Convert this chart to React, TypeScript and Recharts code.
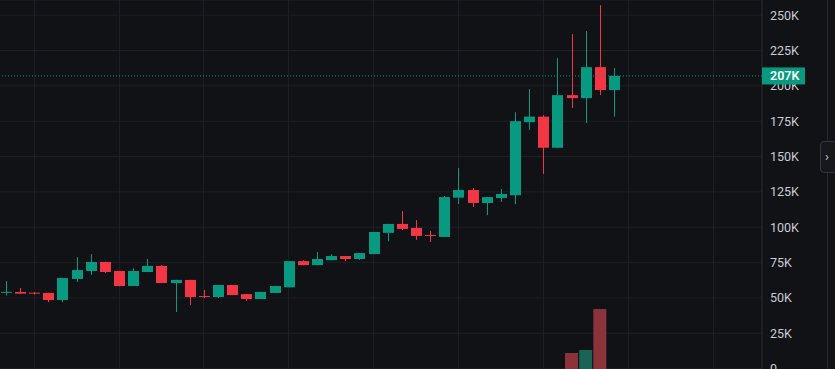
import React from "react";
import {
  Bar, ComposedChart, CartesianGrid, ReferenceLine, XAxis, YAxis,
} from "recharts";

// monthly candles, values in dollars (in K)
const opens  = [53.7, 54.2, 53.7, 53.5, 48.5, 63.4, 69.0, 75.4, 69.0, 58.4, 68.3, 72.6, 60.5, 62.7, 51.3, 50.6, 59.1, 52.7, 49.2, 53.5, 57.5, 76.0, 73.2, 76.7, 79.6, 77.5, 81.0, 96.0, 102.3, 99.5, 94.5, 93.1, 120.9, 126.3, 117.1, 120.6, 122.6, 174.3, 178.2, 156.2, 193.4, 191.3, 213.2, 197.0];
const highs  = [62.0, 57.0, 54.2, 53.6, 64.2, 78.9, 81.0, 75.6, 69.1, 71.1, 77.5, 73.3, 62.8, 62.8, 55.6, 59.2, 59.2, 52.8, 54.3, 58.5, 76.1, 76.7, 82.4, 81.0, 79.7, 81.8, 96.7, 102.4, 111.4, 105.0, 97.3, 122.0, 141.9, 127.7, 121.4, 127.0, 181.3, 197.7, 179.3, 219.6, 236.6, 238.7, 257.0, 212.6];
const lows   = [51.6, 52.8, 52.3, 47.0, 47.0, 61.2, 66.2, 67.6, 58.2, 58.3, 68.2, 60.4, 40.0, 45.0, 50.0, 49.9, 51.9, 47.8, 49.1, 53.4, 57.4, 73.1, 73.1, 76.6, 76.0, 76.7, 80.9, 90.0, 98.0, 91.0, 89.5, 93.0, 116.4, 114.3, 108.5, 117.8, 116.3, 168.8, 137.7, 156.1, 184.3, 173.7, 193.4, 178.2];
const closes = [54.3, 53.0, 53.0, 48.5, 64.1, 69.7, 75.4, 68.3, 58.4, 69.0, 72.6, 60.5, 62.7, 50.6, 50.9, 59.1, 52.0, 49.2, 54.2, 58.4, 76.0, 73.2, 77.5, 79.6, 77.5, 81.7, 96.6, 102.3, 98.8, 93.8, 94.2, 121.3, 126.3, 117.1, 121.3, 123.5, 175.0, 178.2, 156.2, 193.4, 191.3, 213.2, 197.0, 207.0];
// volume in millions, only the last months show up
const volumes = [0, 0, 0, 0, 0, 0, 0, 0, 0, 0, 0, 0, 0, 0, 0, 0, 0, 0, 0, 0, 0, 0, 0, 0, 0, 0, 0, 0, 0, 0, 0, 0, 0, 0, 0, 0, 0, 0, 0, 0, 1.6, 1.9, 6.0, 0];

const priceTicks = [0, 25000, 50000, 75000, 100000, 125000, 150000, 175000, 200000, 225000, 250000];
const timeTicks = [2, 8, 14, 20, 26, 32, 38, 44, 50];
const lastPrice = 207000;

const W = 835;
const H = 369;
const AXIS_W = 73;
const BG = "#111216";
const GRID = "#1d1f24";
const UP = "#089981";
const DOWN = "#F23645";
const UP_VOL = "#1a6456";
const DOWN_VOL = "#8b333b";
const TEXT = "#c9ccd3";
const FONT = "Roboto, 'Noto Sans', sans-serif";

const data = opens.map((o, i) => ({
  i,
  open: o * 1000,
  high: highs[i] * 1000,
  low: lows[i] * 1000,
  close: closes[i] * 1000,
  range: [lows[i] * 1000, highs[i] * 1000],
  volume: volumes[i],
}));

const xDomain: [number, number] = [-0.389, 53.5];
const yDomain: [number, number] = [-300, 260700];

function fmtK(v: number) {
  if (v === 0) return "0";
  return `${Math.round(v / 1000)}K`;
}

function Candle(props: any) {
  const { x, y, width, height, payload } = props;
  if (x == null || y == null) return null;
  const { open, close, high, low } = payload;
  const color = close >= open ? UP : DOWN;
  const top = Math.min(y, y + height);
  const h = Math.abs(height);
  const k = h / (high - low);
  const bTop = top + (high - Math.max(open, close)) * k;
  const bBot = top + (high - Math.min(open, close)) * k;
  const cx = Math.round(x + width / 2) + 0.5;
  return (
    <g>
      <line x1={cx} x2={cx} y1={top} y2={top + h} stroke={color} strokeWidth={1} />
      <rect x={cx - width / 2} y={bTop} width={width} height={Math.max(1, bBot - bTop)} fill={color} />
    </g>
  );
}

function VolBar(props: any) {
  const { x, y, width, height, payload } = props;
  if (!height) return null;
  return <rect x={x} y={y} width={width} height={height} fill={payload.close >= payload.open ? UP_VOL : DOWN_VOL} />;
}

function PriceTag(props: any) {
  const { viewBox } = props;
  const x = viewBox.x + viewBox.width;
  const y = viewBox.y;
  return (
    <g>
      <rect x={x} y={y - 8.5} width={43} height={17} fill={UP} />
      <text x={x + 8} y={y + 0.5} fill="#ffffff" fontSize={12.5} fontWeight={600}
        fontFamily={FONT} dominantBaseline="middle">
        {fmtK(lastPrice)}
      </text>
    </g>
  );
}

// vertical grid lines at the time ticks
function timeGrid(p: any) {
  const scale = p?.xAxis?.scale;
  let pos: (t: number) => number;
  if (typeof scale === "function") pos = scale;
  else if (scale && typeof scale.map === "function") pos = (t) => scale.map(t);
  else {
    const left = p?.offset?.left ?? 0;
    const w = p?.offset?.width ?? W - AXIS_W;
    pos = (t) => left + ((t - xDomain[0]) / (xDomain[1] - xDomain[0])) * w;
  }
  return timeTicks.map((t) => Math.round(pos(t)) + 0.5);
}

const layer: React.CSSProperties = { position: "absolute", left: 0, top: 0 };

export default function App() {
  return (
    <div style={{ position: "fixed", left: 0, top: 0, width: W, height: H, background: BG, overflow: "hidden" }}>
      {/* grid, price axis, volume */}
      <div style={layer}>
        <ComposedChart width={W} height={H} data={data} margin={{ top: 0, right: 0, bottom: 0, left: 0 }}>
          <CartesianGrid stroke={GRID} verticalCoordinatesGenerator={timeGrid} />
          <XAxis dataKey="i" type="number" domain={xDomain} allowDataOverflow ticks={timeTicks}
            height={0} tick={false} tickLine={false} axisLine={false} />
          <YAxis orientation="right" width={AXIS_W} domain={yDomain} allowDataOverflow ticks={priceTicks}
            interval={0} tickFormatter={fmtK} tickLine={false} tickSize={6} tickMargin={2}
            axisLine={{ stroke: "#2a2c32" }}
            tick={{ fill: TEXT, fontSize: 12.5, fontFamily: FONT, textAnchor: "start" }} />
          <YAxis yAxisId="vol" hide domain={[0, 36.9]} />
          <Bar yAxisId="vol" dataKey="volume" barSize={13} shape={VolBar} isAnimationActive={false} />
        </ComposedChart>
      </div>
      {/* candles + last price */}
      <div style={layer}>
        <ComposedChart width={W} height={H} data={data} margin={{ top: 0, right: 0, bottom: 0, left: 0 }}>
          <XAxis dataKey="i" type="number" domain={xDomain} allowDataOverflow ticks={timeTicks}
            height={0} tick={false} tickLine={false} axisLine={false} />
          <YAxis orientation="right" width={AXIS_W} domain={yDomain} allowDataOverflow ticks={priceTicks}
            tick={false} tickLine={false} axisLine={false} />
          <Bar dataKey="range" barSize={11} shape={Candle} isAnimationActive={false} />
          <ReferenceLine y={lastPrice} stroke={UP} strokeDasharray="1 2" label={PriceTag} />
        </ComposedChart>
      </div>
      {/* next pane edge + collapse button */}
      <div style={{ position: "absolute", left: 827, top: 0, width: 8, height: H, background: "#121317", borderLeft: "1px solid #24262b" }} />
      <div style={{
        position: "absolute", left: 820, top: 141, width: 18, height: 32, boxSizing: "border-box",
        border: "1px solid #34363d", borderRadius: 4, background: "#17181c", color: "#c9ccd3",
        fontFamily: FONT, fontSize: 13, lineHeight: "30px", paddingLeft: 4,
      }}>›</div>
    </div>
  );
}
